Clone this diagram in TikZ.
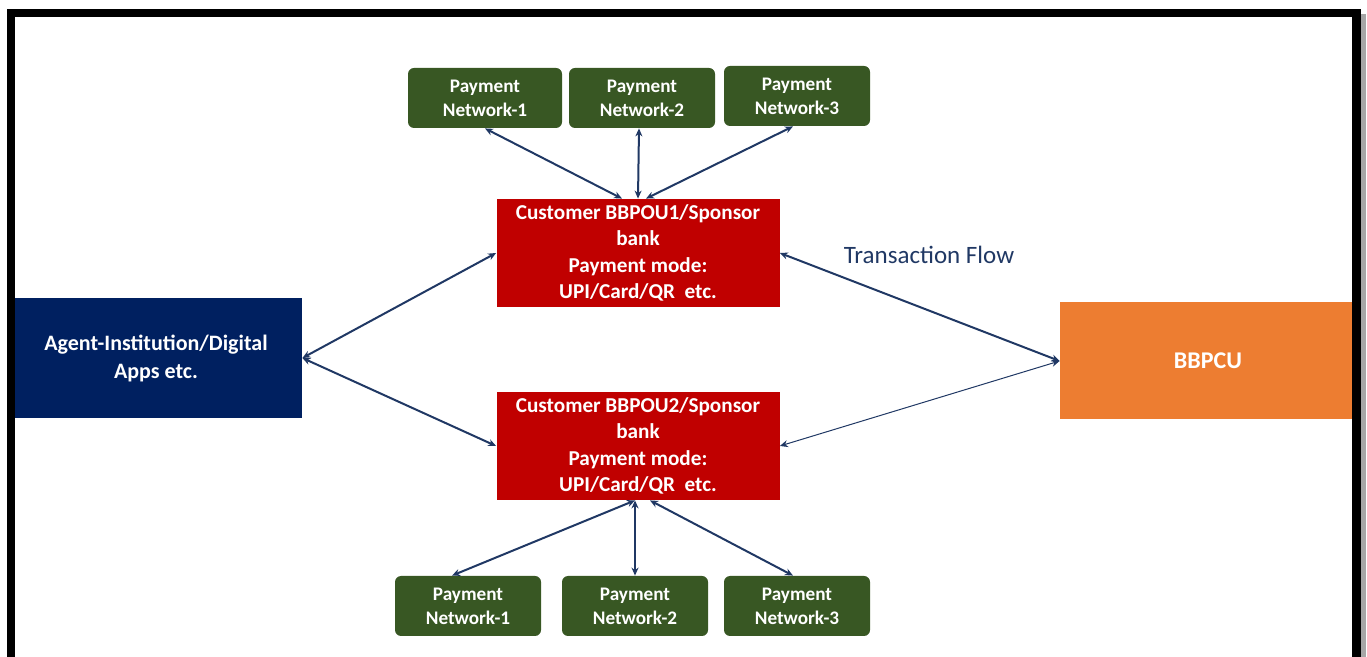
\documentclass[tikz,border=0pt]{standalone}
\usepackage{fontspec}
\setmainfont{Carlito}
\usetikzlibrary{arrows.meta}
\definecolor{netgreen}{HTML}{385723}
\definecolor{bankred}{HTML}{C00000}
\definecolor{agentblue}{HTML}{002060}
\definecolor{cuorange}{HTML}{ED7D31}
\definecolor{flowblue}{HTML}{203864}
\begin{document}
\begin{tikzpicture}
    [x=.5pt,y=-.5pt,every node/.style={rectangle,text=white,align=center,inner sep=0pt},
     net/.style={fill=netgreen,rounded corners=3pt,minimum width=73pt,minimum height=30pt,font=\fontsize{9.6}{12}\selectfont\bfseries},
     bank/.style={fill=bankred,minimum width=141.5pt,minimum height=54pt,font=\fontsize{10.6}{13.25}\selectfont\bfseries},
     link/.style={draw=flowblue,line width=1pt,{Stealth[length=4pt,width=3.5pt]}-{Stealth[length=4pt,width=3.5pt]}}]
    \useasboundingbox (0,0) rectangle (1367,657);
    \node[net,minimum width=77pt] (p1) at (485,98) {Payment\\Network-1};
    \node[net] (p2) at (642,98) {Payment\\Network-2};
    \node[net] (p3) at (797,96) {Payment\\Network-3};
    \node[bank] (b1) at (638,253) {Customer BBPOU1/Sponsor\\bank\\Payment mode:\\UPI/Card/QR\ \ etc.};
    \node[bank] (b2) at (638,446) {Customer BBPOU2/Sponsor\\bank\\Payment mode:\\UPI/Card/QR\ \ etc.};
    \node[net] (q1) at (468,606) {Payment\\Network-1};
    \node[net] (q2) at (635,606) {Payment\\Network-2};
    \node[net] (q3) at (797,606) {Payment\\Network-3};
    \node[fill=agentblue,minimum width=146pt,minimum height=60pt,font=\fontsize{11}{14}\selectfont\bfseries] (ag) at (156,358) {Agent-Institution/Digital\\Apps etc.};
    \node[fill=cuorange,minimum width=148pt,minimum height=58.5pt,font=\fontsize{12}{14}\selectfont\bfseries] (cu) at (1208,361) {BBPCU};
    \node[text=flowblue,font=\fontsize{12.5}{15}\selectfont] (tf) at (929,255) {Transaction Flow};
    \draw[link] (p1.south) -- ([xshift=-8pt]b1.north);
    \draw[link] ([xshift=-1.5pt]p2.south) -- (b1.north);
    \draw[link] ([xshift=-2pt]p3.south) -- ([xshift=4pt]b1.north);
    \draw[link] (ag.east) -- (b1.west);
    \draw[link] (ag.east) -- (b2.west);
    \draw[link] (b1.east) -- (cu.west);
    \draw[link,line width=.5pt] (b2.east) -- (cu.west);
    \draw[link] ([xshift=-1.5pt]b2.south) -- ([xshift=-8pt]q1.north);
    \draw[link] ([xshift=-1.5pt]b2.south) -- (q2.north);
    \draw[link] ([xshift=6pt]b2.south) -- ([xshift=-2pt]q3.north);
    % frame
    \fill[black!35] (1361,14) rectangle (1366,657);
    \fill (7,9) rectangle (1361,17);
    \fill (7,9) rectangle (15,657);
    \fill (1352,9) rectangle (1361,657);
  \end{tikzpicture}
\end{document}
